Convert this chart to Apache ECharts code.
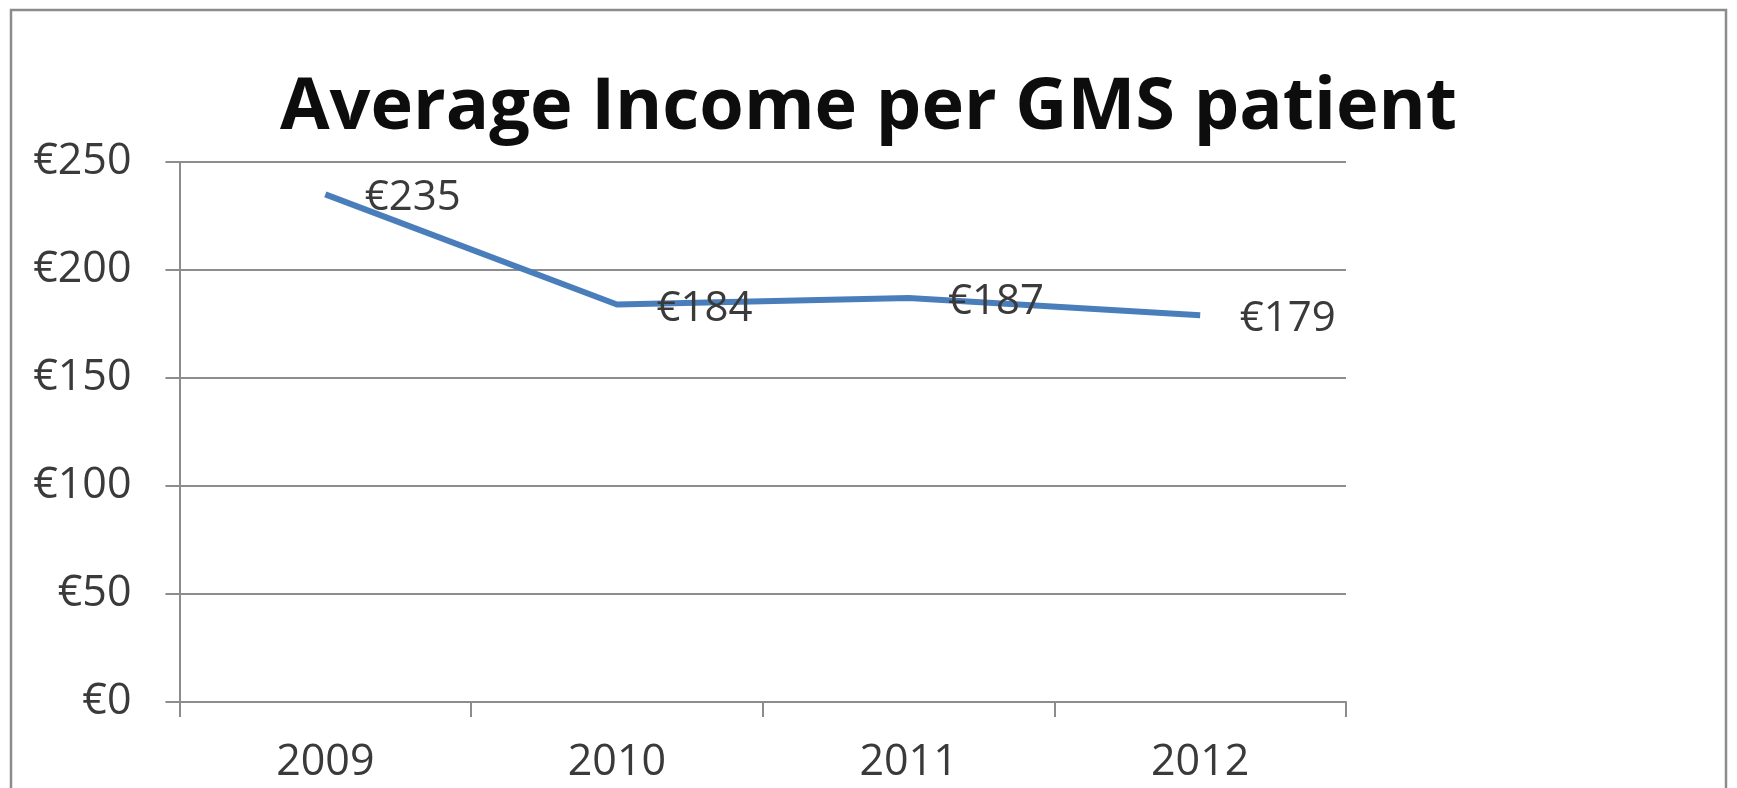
<!DOCTYPE html>
<html>
<head>
<meta charset="utf-8">
<script src="https://cdn.jsdelivr.net/npm/echarts@6/dist/echarts.min.js"></script>
<style>html,body{margin:0;padding:0;background:#fff;}#c{width:1737px;height:788px;}</style>
</head>
<body>
<div id="c"></div>
<script>
var titleText = 'Average Income per GMS patient';
var categories = ['2009', '2010', '2011', '2012'];
var incomeValues = [235, 184, 187, 179];
var yTicks = [0, 50, 100, 150, 200, 250];

var chart = echarts.init(document.getElementById('c'), null, {renderer: 'canvas'});
var FONT = '"Open Sans", Lato, sans-serif';
chart.setOption({
  animation: false,
  backgroundColor: '#ffffff',
  graphic: [{
    type: 'rect',
    shape: {x: 11, y: 10, width: 1715, height: 800},
    style: {fill: 'none', stroke: '#8c8c8c', lineWidth: 2.5},
    silent: true
  }],
  title: {
    text: titleText,
    left: 'center',
    top: 67,
    textStyle: {fontFamily: FONT, fontWeight: 'bold', fontSize: 72, color: '#0d0d0d'}
  },
  grid: {left: 179.5, right: 391, top: 162, bottom: 86, containLabel: false},
  xAxis: {
    type: 'category',
    data: categories,
    boundaryGap: true,
    axisLine: {show: true, lineStyle: {color: '#8c8c8c', width: 2}},
    axisTick: {show: true, length: 15, lineStyle: {color: '#8c8c8c', width: 2}},
    axisLabel: {margin: 39, fontFamily: FONT, fontSize: 43, color: '#3a3a3a'},
    splitLine: {show: false}
  },
  yAxis: {
    type: 'value',
    min: yTicks[0],
    max: yTicks[yTicks.length - 1],
    interval: yTicks[1] - yTicks[0],
    axisLine: {show: true, lineStyle: {color: '#8c8c8c', width: 2}},
    axisTick: {show: true, length: 14, lineStyle: {color: '#8c8c8c', width: 2}},
    axisLabel: {
      margin: 48, fontFamily: FONT, fontSize: 43, color: '#3a3a3a',
      formatter: function (v) { return '\u20ac' + v; }
    },
    splitLine: {show: true, lineStyle: {color: '#8c8c8c', width: 2}}
  },
  series: [{
    type: 'line',
    data: incomeValues,
    showSymbol: true,
    symbol: 'circle',
    symbolSize: 1,
    itemStyle: {color: 'rgba(0,0,0,0)'},
    lineStyle: {color: '#4a7ebb', width: 6},
    label: {
      show: true,
      position: 'right',
      distance: 39,
      offset: [0, 4],
      fontFamily: FONT,
      fontSize: 42,
      color: '#3a3a3a',
      formatter: function (p) { return '\u20ac' + p.value; }
    }
  }]
});
</script>
</body>
</html>
